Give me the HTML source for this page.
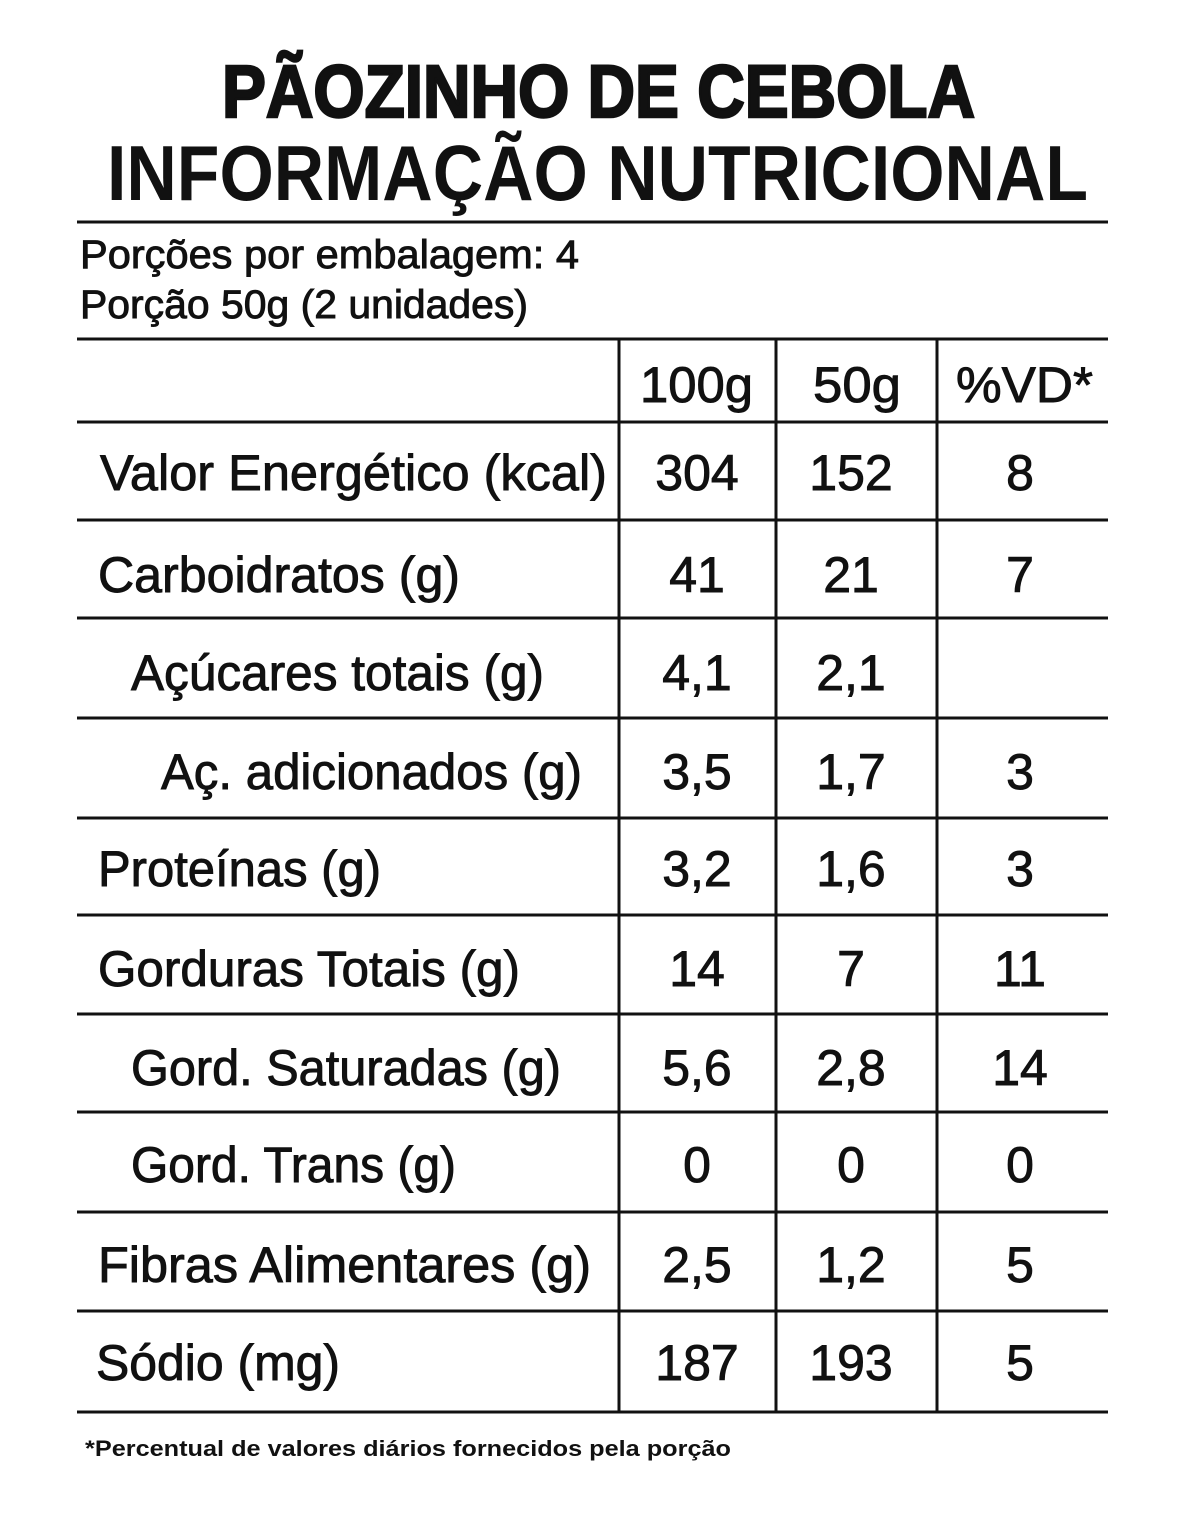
<!DOCTYPE html>
<html><head><meta charset="utf-8"><style>
html,body{margin:0;padding:0;background:#fff;}
svg{display:block;}
text{font-family:"Liberation Sans","DejaVu Sans",sans-serif;fill:#111;}
.t{stroke:#111;stroke-width:0.9;}
</style></head><body>
<svg width="1185" height="1532" viewBox="0 0 1185 1532" xmlns="http://www.w3.org/2000/svg">
<rect width="1185" height="1532" fill="#fff"/>
<text x="222" y="117" font-size="74" font-weight="bold" textLength="753" lengthAdjust="spacingAndGlyphs" style="stroke:#111;stroke-width:2.5">PÃOZINHO DE CEBOLA</text>
<text x="107" y="200" font-size="78" font-weight="bold" textLength="981" lengthAdjust="spacingAndGlyphs">INFORMAÇÃO NUTRICIONAL</text>
<g stroke="#111" stroke-width="3">
<line x1="77" y1="222" x2="1108" y2="222"/>
<line x1="77" y1="339" x2="1108" y2="339"/>
<line x1="77" y1="422" x2="1108" y2="422"/>
<line x1="77" y1="520" x2="1108" y2="520"/>
<line x1="77" y1="618" x2="1108" y2="618"/>
<line x1="77" y1="718" x2="1108" y2="718"/>
<line x1="77" y1="818" x2="1108" y2="818"/>
<line x1="77" y1="915" x2="1108" y2="915"/>
<line x1="77" y1="1014" x2="1108" y2="1014"/>
<line x1="77" y1="1112" x2="1108" y2="1112"/>
<line x1="77" y1="1212" x2="1108" y2="1212"/>
<line x1="77" y1="1311" x2="1108" y2="1311"/>
<line x1="77" y1="1412" x2="1108" y2="1412"/>
<line x1="619" y1="339" x2="619" y2="1412"/>
<line x1="776" y1="339" x2="776" y2="1412"/>
<line x1="937" y1="339" x2="937" y2="1412"/>
</g>
<text class="t" x="80" y="268" font-size="40" textLength="499" lengthAdjust="spacingAndGlyphs">Porções por embalagem: 4</text>
<text class="t" x="80" y="318" font-size="40" textLength="448" lengthAdjust="spacingAndGlyphs">Porção 50g (2 unidades)</text>
<g class="t" font-size="50">
<text x="640" y="402" textLength="113" lengthAdjust="spacingAndGlyphs">100g</text>
<text x="813" y="402" textLength="88" lengthAdjust="spacingAndGlyphs">50g</text>
<text x="956" y="402" textLength="137" lengthAdjust="spacingAndGlyphs">%VD*</text>
<text x="100" y="490" textLength="507" lengthAdjust="spacingAndGlyphs">Valor Energético (kcal)</text>
<text x="98" y="592" textLength="362" lengthAdjust="spacingAndGlyphs">Carboidratos (g)</text>
<text x="131" y="690" textLength="413" lengthAdjust="spacingAndGlyphs">Açúcares totais (g)</text>
<text x="161" y="789" textLength="421" lengthAdjust="spacingAndGlyphs">Aç. adicionados (g)</text>
<text x="98" y="886" textLength="283" lengthAdjust="spacingAndGlyphs">Proteínas (g)</text>
<text x="98" y="986" textLength="422" lengthAdjust="spacingAndGlyphs">Gorduras Totais (g)</text>
<text x="131" y="1085" textLength="430" lengthAdjust="spacingAndGlyphs">Gord. Saturadas (g)</text>
<text x="131" y="1182" textLength="325" lengthAdjust="spacingAndGlyphs">Gord. Trans (g)</text>
<text x="98" y="1282" textLength="493" lengthAdjust="spacingAndGlyphs">Fibras Alimentares (g)</text>
<text x="96" y="1380" textLength="244" lengthAdjust="spacingAndGlyphs">Sódio (mg)</text>
</g>
<g class="t" font-size="50" text-anchor="middle">
<text x="697" y="490">304</text><text x="851" y="490">152</text><text x="1020" y="490">8</text>
<text x="697" y="592">41</text><text x="851" y="592">21</text><text x="1020" y="592">7</text>
<text x="697" y="690">4,1</text><text x="851" y="690">2,1</text>
<text x="697" y="789">3,5</text><text x="851" y="789">1,7</text><text x="1020" y="789">3</text>
<text x="697" y="886">3,2</text><text x="851" y="886">1,6</text><text x="1020" y="886">3</text>
<text x="697" y="986">14</text><text x="851" y="986">7</text><text x="1020" y="986">11</text>
<text x="697" y="1085">5,6</text><text x="851" y="1085">2,8</text><text x="1020" y="1085">14</text>
<text x="697" y="1182">0</text><text x="851" y="1182">0</text><text x="1020" y="1182">0</text>
<text x="697" y="1282">2,5</text><text x="851" y="1282">1,2</text><text x="1020" y="1282">5</text>
<text x="697" y="1380">187</text><text x="851" y="1380">193</text><text x="1020" y="1380">5</text>
</g>
<text x="85" y="1456" font-size="22" font-weight="bold" textLength="646" lengthAdjust="spacingAndGlyphs">*Percentual de valores diários fornecidos pela porção</text>
</svg>
</body></html>
